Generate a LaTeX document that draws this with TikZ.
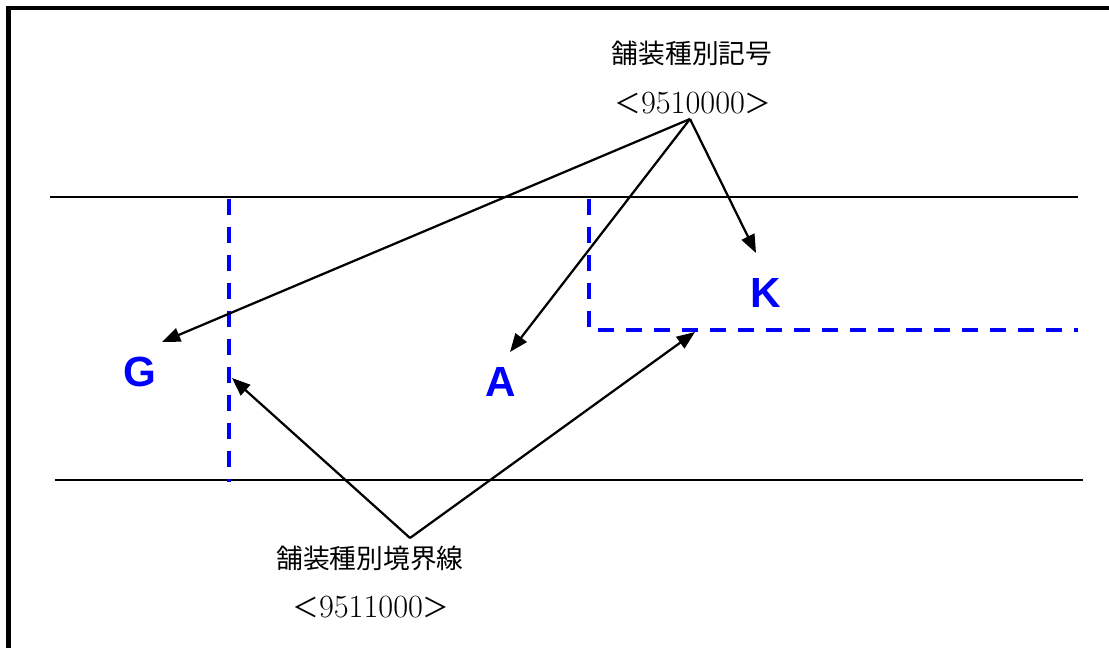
\documentclass[tikz,border=0pt]{standalone}
\usepackage{fontspec}
\usepackage{tikz}
\usepackage{xcolor}
\usetikzlibrary{arrows.meta}
\newfontfamily\jpfont{Noto Sans CJK JP}
\newfontfamily\lblfont{Liberation Sans}
\definecolor{pureblue}{RGB}{0,0,255}

\begin{document}
\begin{tikzpicture}[x=0.025cm, y=-0.025cm, thick,
    road/.style={line width=1.7pt},
    border/.style={pureblue, line width=2.3pt, dash pattern=on 0.4cm off 0.3cm},
    pointer/.style={line width=1.6pt, -{Triangle[length=13pt, width=10pt]}},
    caption/.style={font=\jpfont\fontsize{19pt}{22pt}\selectfont, inner sep=0pt},
    code/.style={font=\fontsize{23pt}{26pt}\selectfont, inner sep=0pt},
    letter/.style={pureblue, font=\lblfont\bfseries\fontsize{30pt}{32pt}\selectfont, inner sep=0pt}]
    \useasboundingbox (0,0) rectangle (1109,648);
    % Frame
    \draw[line width=3pt] (1120,8) -- (8.5,8) -- (8.5,660);
    % Road edges
    \draw[road] (50,197) -- (1078,197);
    \draw[road] (55,480) -- (1083,480);
    % Boundary lines
    \draw[border] (229,199) -- (229,482);
    \draw[border] (589,199) -- (589,330) -- (1078,330);
    % Area letters
    \node[letter] (G) at (140,372) {G};
    \node[letter] (A) at (501,382) {A};
    \node[letter] (K) at (766,293) {K};
    % Sign label
    \node[caption] (signtxt) at (692,53) {舗装種別記号};
    \node[code] (signcode) at (693,103) {{\jpfont\fontsize{19pt}{22pt}\selectfont ＜}9510000{\jpfont\fontsize{19pt}{22pt}\selectfont ＞}};
    \coordinate (signpt) at (690,119);
    \coordinate (Gtip) at (162,342);
    \coordinate (Atip) at (510,352);
    \coordinate (Ktip) at (756,253);
    \draw[pointer] (signpt) -- (Gtip);
    \draw[pointer] (signpt) -- (Atip);
    \draw[pointer] (signpt) -- (Ktip);
    % Boundary label
    \node[caption] (linetxt) at (370,558) {舗装種別境界線};
    \node[code] (linecode) at (371,607) {{\jpfont\fontsize{19pt}{22pt}\selectfont ＜}9511000{\jpfont\fontsize{19pt}{22pt}\selectfont ＞}};
    \coordinate (linept) at (410,538);
    \coordinate (leftb) at (232,378);
    \coordinate (rightb) at (695,332);
    \draw[pointer] (linept) -- (leftb);
    \draw[pointer] (linept) -- (rightb);
\end{tikzpicture}
\end{document}
